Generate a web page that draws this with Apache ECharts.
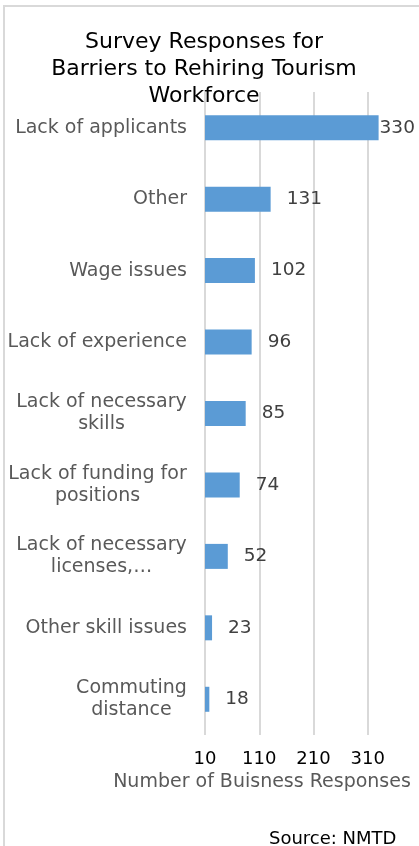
<!DOCTYPE html>
<html>
<head>
<meta charset="utf-8">
<script src="https://cdn.jsdelivr.net/npm/echarts@6/dist/echarts.min.js"></script>
<style>
html,body{margin:0;padding:0;background:#fff;}
#chart{width:419px;height:846px;}
</style>
</head>
<body>
<div id="chart"></div>
<script>
const titleText = 'Survey Responses for\nBarriers to Rehiring Tourism\nWorkforce';
const categories = [
  'Lack of applicants',
  'Other',
  'Wage issues',
  'Lack of experience',
  'Lack of necessary\nskills',
  'Lack of funding for\npositions',
  'Lack of necessary\nlicenses,\u2026',
  'Other skill issues',
  'Commuting\ndistance'
];
const responses = [330, 131, 102, 96, 85, 74, 52, 23, 18];
const axisMin = 10;
const axisMax = 410;
const axisInterval = 100;
const axisName = 'Number of Buisness Responses';
const sourceText = 'Source: NMTD';

const FONT = '"DejaVu Sans", sans-serif';
const catFontSize = 19;

// measure multi-line labels so each line is centered within a right-aligned block
const ctx = document.createElement('canvas').getContext('2d');
ctx.font = catFontSize + 'px "DejaVu Sans"';
const rich = {};
categories.forEach((c, i) => {
  if (c.indexOf('\n') >= 0) {
    const w = Math.max(...c.split('\n').map(l => ctx.measureText(l).width));
    rich['m' + i] = {
      width: Math.ceil(w),
      align: 'center',
      fontSize: catFontSize,
      fontFamily: FONT,
      color: '#595959',
      lineHeight: 22
    };
  }
});

const chart = echarts.init(document.getElementById('chart'), null, {renderer: 'canvas'});
chart.setOption({
  animation: false,
  backgroundColor: '#fff',
  graphic: [{
    type: 'rect',
    shape: {x: 4, y: 6, width: 700, height: 1000},
    style: {fill: 'none', stroke: '#d9d9d9', lineWidth: 2},
    silent: true,
    z: -10
  }],
  title: [{
    text: titleText,
    left: 199,
    top: 24,
    textAlign: 'center',
    textStyle: {fontFamily: FONT, fontSize: 22, lineHeight: 27, fontWeight: 'normal', color: '#000'}
  }, {
    text: sourceText,
    left: 264,
    top: 825,
    textStyle: {fontFamily: FONT, fontSize: 18, fontWeight: 'normal', color: '#000'}
  }],
  grid: {left: 205, top: 92, width: 217, height: 643, containLabel: false, outerBoundsMode: 'none'},
  xAxis: {
    type: 'value',
    min: axisMin,
    max: axisMax,
    interval: axisInterval,
    axisLine: {show: false},
    axisTick: {show: false},
    splitLine: {show: true, lineStyle: {color: '#d9d9d9', width: 2}},
    axisLabel: {
      margin: 15,
      showMaxLabel: false,
      fontFamily: FONT,
      fontSize: 18,
      color: '#000'
    },
    name: axisName,
    nameLocation: 'middle',
    nameGap: 35,
    nameTextStyle: {fontFamily: FONT, fontSize: 19, color: '#595959', padding: [0, 103, 0, 0]}
  },
  yAxis: {
    type: 'category',
    inverse: true,
    data: categories,
    axisLine: {show: false},
    axisTick: {show: false},
    splitLine: {show: false},
    axisLabel: {
      margin: 18,
      interval: 0,
      align: 'right',
      fontFamily: FONT,
      fontSize: catFontSize,
      lineHeight: 22,
      color: '#595959',
      formatter: function (value, index) {
        if (value.indexOf('\n') < 0) return value;
        return value.split('\n').map(l => '{m' + index + '|' + l + '}').join('\n');
      },
      rich: rich
    }
  },
  series: [{
    type: 'bar',
    data: responses.map((v, i) => i === 0 ? {value: v, label: {distance: 1}} : v),
    barWidth: 25,
    itemStyle: {color: '#5B9BD5'},
    label: {
      show: true,
      position: 'right',
      distance: 16,
      fontFamily: FONT,
      fontSize: 18.5,
      color: '#404040'
    }
  }]
});
</script>
</body>
</html>
